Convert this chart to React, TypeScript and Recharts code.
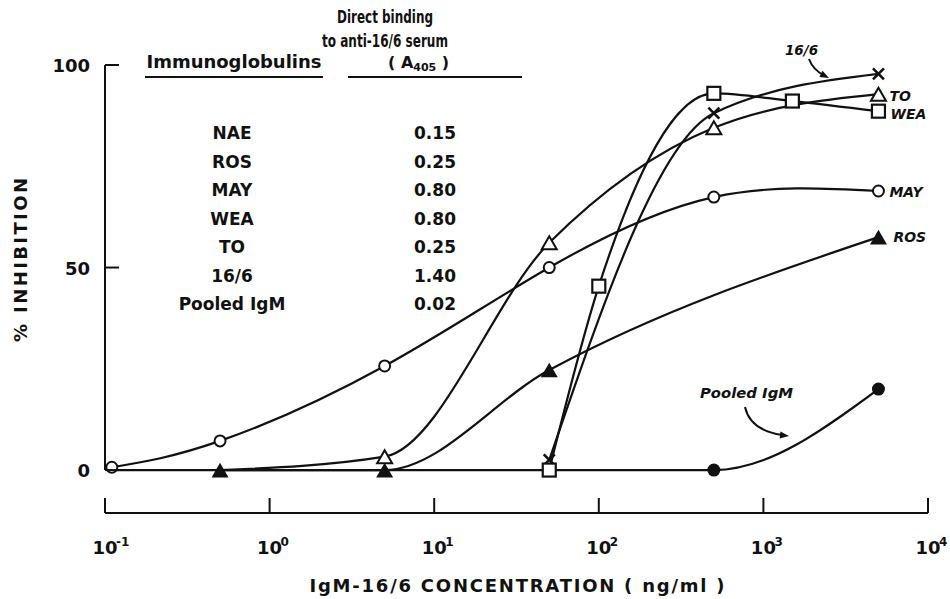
import React from 'react';
import { LineChart, Line, XAxis, YAxis, ReferenceLine } from 'recharts';

// Inhibition of anti-16/6 binding by IgM-16/6 at increasing concentration.
// Values (x in ng/ml, y in % inhibition).

const INK = '#111';
const FONT = '"DejaVu Sans", Verdana, sans-serif';

const mayConc = [0.11, 0.5, 5, 50, 500, 5000];
const mayInh = [0.7, 7.2, 25.7, 50, 67.4, 68.9];

const toConc = [0.5, 5, 50, 500, 5000];
const toInh = [0, 3.3, 56.1, 84.5, 92.8];

const rosConc = [0.5, 5, 50, 5000];
const rosInh = [0, 0, 24.7, 57.5];

const mab166Conc = [50, 500, 5000];
const mab166Inh = [2.5, 88.1, 97.8];

const weaConc = [50, 100, 500, 1500, 5000];
const weaInh = [0, 45.4, 93, 91.1, 88.6];

const pooledConc = [0.11, 0.5, 5, 50, 500, 5000];
const pooledInh = [0, 0, 0, 0, 0, 20];

const xTicks = [0.1, 1, 10, 100, 1000, 10000];
const xTickExp = ['-1', '0', '1', '2', '3', '4'];
const yTicks = [0, 50, 100];
const yMin = -10.6; // x axis sits a little below the 0 line

const tableNames = ['NAE', 'ROS', 'MAY', 'WEA', 'TO', '16/6', 'Pooled IgM'];
const tableA405 = ['0.15', '0.25', '0.80', '0.80', '0.25', '1.40', '0.02'];

type Pt = { conc: number; inh: number };
type MarkerKind = 'circle' | 'triangle' | 'solidTriangle' | 'cross' | 'square' | 'dot';

const toPoints = (xs: number[], ys: number[]): Pt[] => xs.map((c, i) => ({ conc: c, inh: ys[i] }));

// draw order matters: later series sit on top
const SERIES = [
  { name: 'Pooled IgM', points: toPoints(pooledConc, pooledInh), marker: 'dot' as MarkerKind, curve: 'monotoneX', tag: null },
  { name: 'TO', points: toPoints(toConc, toInh), marker: 'triangle' as MarkerKind, curve: 'monotoneX', tag: { text: 'TO', dx: 11, dy: 7 } },
  { name: 'ROS', points: toPoints(rosConc, rosInh), marker: 'solidTriangle' as MarkerKind, curve: 'monotoneX', tag: { text: 'ROS', dx: 15, dy: 5 } },
  { name: '16/6', points: toPoints(mab166Conc, mab166Inh), marker: 'cross' as MarkerKind, curve: 'monotoneX', tag: null },
  { name: 'WEA', points: toPoints(weaConc, weaInh), marker: 'square' as MarkerKind, curve: 'monotoneX', tag: { text: 'WEA', dx: 12, dy: 8 } },
  { name: 'MAY', points: toPoints(mayConc, mayInh), marker: 'circle' as MarkerKind, curve: 'natural', tag: { text: 'MAY', dx: 11, dy: 6 } },
];

// a symbol is hidden when a series drawn later has a symbol on the same spot
const covered = (si: number, p: Pt) =>
  SERIES.slice(si + 1).some((s) => s.points.some((q) => q.conc === p.conc && Math.abs(q.inh - p.inh) < 1));

function tri(cx: number, cy: number, s: number) {
  const h = (s * Math.sqrt(3)) / 2;
  return `M${cx},${cy - h / 2}L${cx + s / 2},${cy + h / 2}L${cx - s / 2},${cy + h / 2}Z`;
}

function Marker({ kind, cx, cy }: { kind: MarkerKind; cx: number; cy: number }) {
  switch (kind) {
    case 'circle':
      return <circle cx={cx} cy={cy} r={5.5} fill="#fff" stroke={INK} strokeWidth={2} />;
    case 'dot':
      return <circle cx={cx} cy={cy} r={6.5} fill={INK} />;
    case 'triangle':
      return <path d={tri(cx, cy, 15)} fill="#fff" stroke={INK} strokeWidth={2} strokeLinejoin="miter" />;
    case 'solidTriangle':
      return <path d={tri(cx, cy, 17)} fill={INK} />;
    case 'square':
      return <rect x={cx - 6.5} y={cy - 6.5} width={13} height={13} fill="#fff" stroke={INK} strokeWidth={2.2} />;
    case 'cross':
      return (
        <g stroke={INK} strokeWidth={2.6}>
          <line x1={cx - 5.5} y1={cy - 5.5} x2={cx + 5.5} y2={cy + 5.5} />
          <line x1={cx - 5.5} y1={cy + 5.5} x2={cx + 5.5} y2={cy - 5.5} />
        </g>
      );
  }
  return null;
}

function XTick({ x, y, payload }: any) {
  let i = xTicks.indexOf(payload.value);
  if (i < 0) i = xTicks.findIndex((t) => Math.abs(Math.log10(t) - Math.log10(payload.value)) < 1e-6);
  return (
    <g fontFamily={FONT} fontWeight={700} fill={INK}>
      <line x1={x} x2={x} y1={y} y2={y - 15} stroke={INK} strokeWidth={2} />
      <text x={x} y={y + 41} textAnchor="middle" fontSize={18}>10</text>
      <text x={x + 11} y={y + 33} fontSize={12}>{xTickExp[i]}</text>
    </g>
  );
}

function YTick({ x, y, payload }: any) {
  return (
    <g>
      <line x1={x} x2={x + 14} y1={y} y2={y} stroke={INK} strokeWidth={2} />
      <text x={x - 15} y={y + 7} textAnchor="end" fontSize={18} fontFamily={FONT} fontWeight={700} fill={INK}>
        {payload.value}
      </text>
    </g>
  );
}

function arrowHead(x0: number, y0: number, x1: number, y1: number, len = 9, half = 3.5) {
  const d = Math.hypot(x1 - x0, y1 - y0);
  const ux = (x1 - x0) / d, uy = (y1 - y0) / d;
  const bx = x1 - ux * len, by = y1 - uy * len;
  return `${x1},${y1} ${bx - uy * half},${by + ux * half} ${bx + uy * half},${by - ux * half}`;
}

function Overlay() {
  const txt = { fontFamily: FONT, fontWeight: 700, fill: INK } as const;
  return (
    <svg width={950} height={599} style={{ position: 'absolute', left: 0, top: 0, pointerEvents: 'none' }}>
      {/* table header */}
      <text {...txt} x={385} y={23} fontSize={17} textAnchor="middle" textLength={96} lengthAdjust="spacingAndGlyphs">Direct binding</text>
      <text {...txt} x={385} y={47} fontSize={17} textAnchor="middle" textLength={126} lengthAdjust="spacingAndGlyphs">to anti-16/6 serum</text>
      <text {...txt} x={234} y={68} fontSize={17} textAnchor="middle" textLength={175} lengthAdjust="spacingAndGlyphs">Immunoglobulins</text>
      <text {...txt} x={388} y={68} fontSize={16}>
        ( A<tspan fontSize={11} dy={3}>405</tspan><tspan dy={-3}> )</tspan>
      </text>
      <line x1={145} x2={323} y1={77} y2={77} stroke={INK} strokeWidth={2} />
      <line x1={348} x2={522} y1={77} y2={77} stroke={INK} strokeWidth={2} />
      {tableNames.map((n, i) => (
        <text key={n} {...txt} x={232} y={139 + i * 28.5} fontSize={17} textAnchor="middle">{n}</text>
      ))}
      {tableA405.map((v, i) => (
        <text key={i} {...txt} x={435} y={139 + i * 28.5} fontSize={17} textAnchor="middle">{v}</text>
      ))}

      {/* axis titles */}
      <text {...txt} transform="rotate(-90)" x={-260} y={27} fontSize={18} textAnchor="middle" textLength={164} lengthAdjust="spacing">% INHIBITION</text>
      <text {...txt} x={517} y={592} fontSize={18} textAnchor="middle" textLength={415} lengthAdjust="spacing">IgM-16/6 CONCENTRATION ( ng/ml )</text>

      {/* callouts */}
      <text {...txt} x={785} y={55} fontSize={14} fontStyle="italic" textLength={33} lengthAdjust="spacingAndGlyphs">16/6</text>
      <path d="M809,59 Q813,70 825,76" fill="none" stroke={INK} strokeWidth={2} />
      <polygon points={arrowHead(813, 70, 829, 78)} fill={INK} />
      <text {...txt} x={700} y={398} fontSize={14} fontStyle="italic" textLength={93} lengthAdjust="spacingAndGlyphs">Pooled IgM</text>
      <path d="M745,407 Q750,430 782,435" fill="none" stroke={INK} strokeWidth={2} />
      <polygon points={arrowHead(760, 433, 789, 436)} fill={INK} />
    </svg>
  );
}

export default function App() {
  return (
    <div style={{ position: 'absolute', left: 0, top: 0, width: 950, height: 599, background: '#fff' }}>
      <LineChart width={950} height={599} margin={{ top: 65, right: 22, bottom: 0, left: 0 }}>
        <XAxis
          type="number"
          dataKey="conc"
          scale="log"
          domain={[0.1, 10000]}
          ticks={xTicks}
          interval={0}
          height={86}
          tickSize={0}
          tickMargin={0}
          tickLine={false}
          axisLine={{ stroke: INK, strokeWidth: 2 }}
          tick={<XTick />}
          allowDataOverflow
        />
        <YAxis
          type="number"
          domain={[yMin, 100]}
          ticks={yTicks}
          interval={0}
          width={105}
          tickSize={0}
          tickMargin={0}
          tickLine={false}
          axisLine={false}
          tick={<YTick />}
          allowDataOverflow
        />
        <ReferenceLine
          segment={[{ x: 0.1, y: 0 }, { x: 0.1, y: 100 }]}
          stroke={INK}
          strokeWidth={2}
          ifOverflow="visible"
        />
        {SERIES.map((s, si) => (
          <Line
            key={s.name}
            name={s.name}
            data={s.points}
            dataKey="inh"
            type={s.curve as any}
            stroke={INK}
            strokeWidth={2.2}
            isAnimationActive={false}
            dot={(p: any) => {
              const pt = s.points[p.index];
              const last = p.index === s.points.length - 1;
              return (
                <g key={`${s.name}-${p.index}`}>
                  {!covered(si, pt) && <Marker kind={s.marker} cx={p.cx} cy={p.cy} />}
                  {last && s.tag && (
                    <text x={p.cx + s.tag.dx} y={p.cy + s.tag.dy} fontFamily={FONT} fontWeight={700} fontStyle="italic" fontSize={14} fill={INK}>
                      {s.tag.text}
                    </text>
                  )}
                </g>
              );
            }}
            activeDot={false}
          />
        ))}
      </LineChart>
      <Overlay />
    </div>
  );
}
